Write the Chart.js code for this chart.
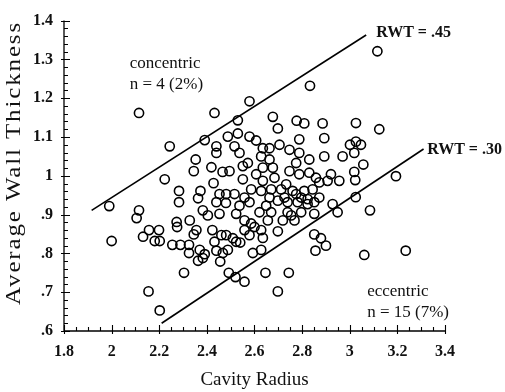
<!DOCTYPE html>
<html>
<head>
<meta charset="utf-8">
<script src="https://cdn.jsdelivr.net/npm/chart.js@4.4.1/dist/chart.umd.min.js"></script>
<style>
  html, body { margin: 0; padding: 0; background: #fff; }
  #wrap { width: 505px; height: 392px; }
</style>
</head>
<body>
<div id="wrap"><canvas id="rwtChart" width="505" height="392"></canvas></div>
<script>
// cavity radius (x) and average wall thickness (y)
var radius = [
  2.115, 2.432, 2.579, 2.833, 2.530, 2.677, 2.777, 2.809, 2.886, 3.026,
  3.116, 2.244, 2.391, 2.440, 2.440, 2.488, 2.353, 2.345, 2.419, 2.466,
  2.223, 2.428, 2.283, 2.373, 2.363, 2.283, 2.453, 2.481, 2.440, 1.990,
  2.115, 2.105, 2.383, 2.404, 2.453, 2.328, 2.273, 2.530, 2.579, 2.607,
  2.698, 2.788, 2.893, 3.001, 3.026, 2.516, 2.537, 2.635, 2.663, 2.705,
  2.747, 2.788, 2.830, 2.893, 2.970, 2.628, 2.663, 2.677, 2.635, 2.572,
  2.551, 2.495, 2.607, 2.775, 2.747, 2.788, 2.830, 2.858, 2.921, 2.956,
  2.907, 2.872, 2.551, 2.635, 2.684, 2.733, 2.586, 2.628, 2.670, 2.712,
  2.760, 2.809, 2.844, 2.516, 2.558, 2.663, 2.726, 2.775, 2.796, 2.823,
  2.872, 3.025, 2.480, 2.537, 2.579, 2.649, 2.698, 2.739, 2.781, 2.823,
  2.851, 2.928, 2.949, 2.851, 2.523, 2.621, 2.670, 2.739, 2.796, 2.558,
  2.656, 2.719, 2.768, 3.124, 3.047, 3.019, 3.057, 3.019, 3.023, 3.194,
  3.085, 2.000, 2.132, 2.157, 2.199, 2.181, 2.202, 2.275, 2.356, 2.345,
  2.255, 2.289, 2.325, 2.325, 2.370, 2.391, 2.363, 2.383, 2.423, 2.461,
  2.481, 2.432, 2.440, 2.467, 2.456, 2.488, 2.304, 2.492, 2.155, 2.202,
  2.754, 2.586, 2.600, 2.628, 2.698, 2.558, 2.579, 2.509, 2.523, 2.540,
  2.635, 2.593, 2.628, 2.851, 2.879, 2.900, 2.856, 2.520, 2.558, 2.646,
  2.744, 2.698, 3.061, 3.235
];
var wallThickness = [
  1.162, 1.162, 1.192, 1.232, 1.143, 1.152, 1.142, 1.135, 1.135, 1.136,
  1.321, 1.076, 1.092, 1.076, 1.059, 1.101, 1.042, 1.012, 1.022, 1.010,
  0.991, 0.981, 0.961, 0.961, 0.942, 0.932, 0.953, 0.953, 0.932, 0.922,
  0.911, 0.891, 0.911, 0.898, 0.902, 0.885, 0.881, 1.109, 1.101, 1.091,
  1.122, 1.094, 1.097, 1.080, 1.088, 1.076, 1.059, 1.071, 1.071, 1.080,
  1.067, 1.059, 1.042, 1.050, 1.050, 1.050, 1.042, 1.021, 1.021, 1.033,
  1.025, 1.012, 1.004, 1.033, 1.012, 1.004, 1.008, 0.995, 1.004, 0.987,
  0.987, 0.983, 0.991, 0.987, 0.995, 0.978, 0.965, 0.961, 0.965, 0.965,
  0.961, 0.961, 0.965, 0.953, 0.944, 0.944, 0.944, 0.953, 0.944, 0.940,
  0.944, 0.945, 0.930, 0.923, 0.932, 0.923, 0.936, 0.932, 0.932, 0.927,
  0.932, 0.927, 0.906, 0.902, 0.902, 0.906, 0.906, 0.906, 0.906, 0.885,
  0.885, 0.885, 0.885, 1.120, 1.080, 1.059, 1.029, 1.010, 0.989, 0.999,
  0.911, 0.832, 0.843, 0.860, 0.860, 0.832, 0.832, 0.868, 0.860, 0.849,
  0.822, 0.822, 0.822, 0.801, 0.809, 0.798, 0.781, 0.788, 0.860, 0.847,
  0.847, 0.830, 0.807, 0.801, 0.779, 0.809, 0.750, 0.750, 0.702, 0.653,
  0.898, 0.877, 0.868, 0.860, 0.857, 0.860, 0.847, 0.839, 0.830, 0.828,
  0.840, 0.801, 0.809, 0.849, 0.839, 0.820, 0.807, 0.739, 0.727, 0.750,
  0.750, 0.702, 0.796, 0.807
];

// the two RWT boundary lines, end points
var rwt45X = [1.916, 3.069];
var rwt45Y = [0.911, 1.363];
var rwt30X = [2.21, 3.31];
var rwt30Y = [0.620, 1.069];

// axis ticks
var xTickMin = 1.8, xTickMax = 3.4, xTickStep = 0.2, xMinorStep = 0.05;
var yTickMin = 0.6, yTickMax = 1.4, yTickStep = 0.1, yMinorStep = 0.02;

// text written on the plot
var noteTexts = ["concentric", "n = 4 (2%)", "RWT = .45", "RWT = .30", "eccentric", "n = 15 (7%)"];
var noteX = [2.076, 2.076, 3.111, 3.325, 3.073, 3.073];
var noteY = [1.289, 1.235, 1.368, 1.067, 0.702, 0.648];
var noteBold = [false, false, true, true, false, false];

var points = radius.map((r, i) => ({ x: r, y: wallThickness[i] }));
var line45 = rwt45X.map((r, i) => ({ x: r, y: rwt45Y[i] }));
var line30 = rwt30X.map((r, i) => ({ x: r, y: rwt30Y[i] }));

const serif = "'Liberation Serif', 'DejaVu Serif', serif";

// axis lines, inward minor ticks, y title and notes
const decorations = {
  id: 'decorations',
  afterDraw(chart) {
    const ctx = chart.ctx;
    const xs = chart.scales.x, ys = chart.scales.y;
    const area = chart.chartArea;
    ctx.save();
    ctx.strokeStyle = '#000';
    ctx.lineWidth = 1.3;
    ctx.beginPath();
    ctx.moveTo(area.left, area.top);
    ctx.lineTo(area.left, area.bottom);
    ctx.lineTo(area.right, area.bottom);
    ctx.stroke();

    ctx.lineWidth = 1.1;
    ctx.beginPath();
    for (let v = xTickMin; v <= xTickMax + 1e-9; v += xMinorStep) {
      const px = Math.round(xs.getPixelForValue(v)) + 0.5;
      const major = Math.abs(v / xTickStep - Math.round(v / xTickStep)) < 1e-6;
      ctx.moveTo(px, area.bottom + (major ? 3 : 0));
      ctx.lineTo(px, area.bottom - (major ? 6 : 4));
    }
    for (let v = yTickMin; v <= yTickMax + 1e-9; v += yMinorStep) {
      const py = Math.round(ys.getPixelForValue(v)) + 0.5;
      const major = Math.abs(v / yTickStep - Math.round(v / yTickStep)) < 1e-6;
      ctx.moveTo(area.left - (major ? 3 : 0), py);
      ctx.lineTo(area.left + (major ? 6 : 4), py);
    }
    ctx.stroke();

    // y axis title, drawn by hand because the original is stretched
    ctx.save();
    ctx.translate(15, 163);
    ctx.rotate(-Math.PI / 2);
    ctx.font = "20px " + serif;
    ctx.letterSpacing = "1.5px";
    ctx.fillStyle = '#111';
    ctx.textAlign = 'center';
    ctx.textBaseline = 'middle';
    const title = "Average Wall Thickness";
    const w = ctx.measureText(title).width;
    ctx.scale(284 / w, 1);
    ctx.fillText(title, 0, 0);
    ctx.restore();

    ctx.fillStyle = '#111';
    ctx.textAlign = 'left';
    ctx.textBaseline = 'middle';
    noteTexts.forEach((t, i) => {
      ctx.font = (noteBold[i] ? "bold 16px " : "17px ") + serif;
      ctx.fillText(t, xs.getPixelForValue(noteX[i]), ys.getPixelForValue(noteY[i]));
    });
    ctx.restore();
  }
};

new Chart(document.getElementById("rwtChart"), {
  type: "scatter",
  data: {
    datasets: [
      {
        label: "patients",
        data: points,
        pointRadius: 4.6,
        pointHoverRadius: 4.6,
        pointBorderWidth: 1.6,
        pointBorderColor: "#000",
        pointBackgroundColor: "rgba(255,255,255,0)",
        showLine: false
      },
      {
        label: "RWT = .45",
        data: line45,
        showLine: true,
        borderColor: "#000",
        borderWidth: 1.6,
        pointRadius: 0
      },
      {
        label: "RWT = .30",
        data: line30,
        showLine: true,
        borderColor: "#000",
        borderWidth: 1.6,
        pointRadius: 0
      }
    ]
  },
  options: {
    responsive: false,
    animation: false,
    devicePixelRatio: 1,
    layout: { padding: { top: 15, right: 60, left: 0, bottom: 0 } },
    plugins: {
      legend: { display: false },
      tooltip: { enabled: false }
    },
    scales: {
      x: {
        type: "linear",
        min: xTickMin,
        max: xTickMax,
        border: { display: false },
        grid: { display: false, drawTicks: false },
        ticks: {
          stepSize: xTickStep,
          padding: 11,
          color: "#111",
          font: { family: serif, size: 16, weight: "bold" },
          callback: v => String(Math.round(v * 10) / 10)
        },
        title: {
          display: true,
          text: "Cavity Radius",
          color: "#111",
          font: { family: serif, size: 19 },
          padding: { top: 0, bottom: 1 }
        },
        afterFit: s => { s.height = 61; }
      },
      y: {
        type: "linear",
        min: yTickMin,
        max: yTickMax,
        border: { display: false },
        grid: { display: false, drawTicks: false },
        ticks: {
          stepSize: yTickStep,
          padding: 11,
          color: "#111",
          font: { family: serif, size: 16, weight: "bold" },
          callback: v => String(Math.round(v * 10) / 10).replace(/^0/, "")
        },
        afterFit: s => { s.width = 64; }
      }
    }
  },
  plugins: [decorations]
});
</script>
</body>
</html>
